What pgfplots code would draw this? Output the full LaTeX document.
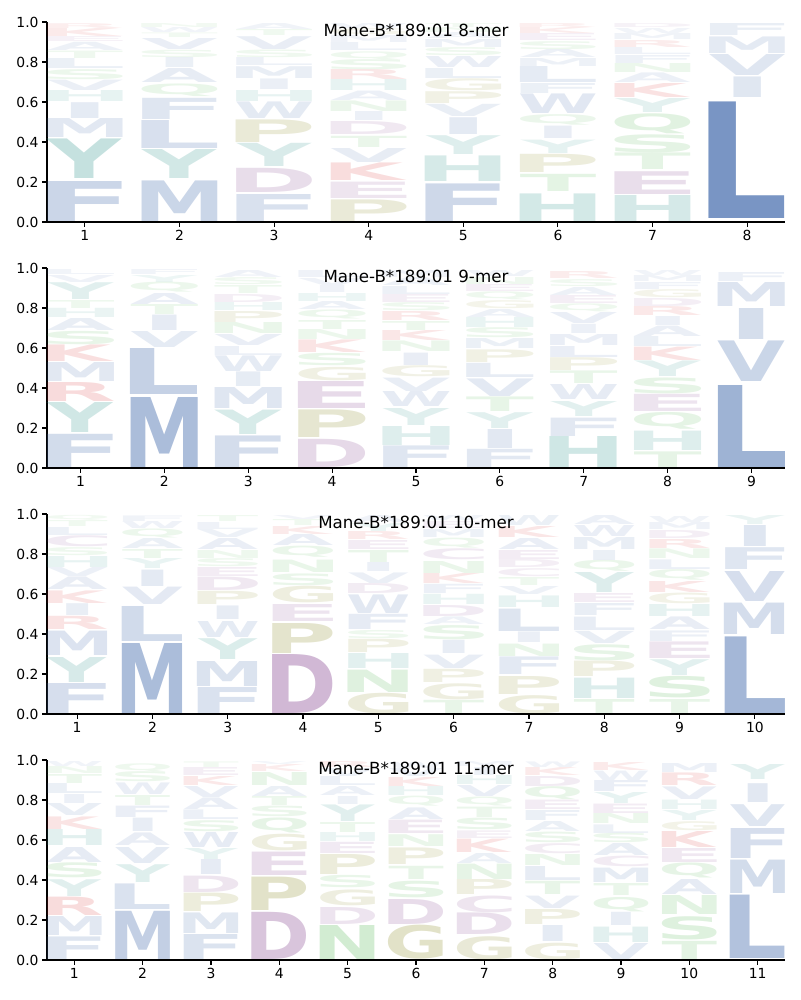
\documentclass[border=0pt]{standalone}
\usepackage{pgfplots}
\usepackage{pgfplotstable}
\usepackage{graphicx}
\usepackage{fontspec}
\pgfplotsset{compat=1.18}
\setmainfont{DejaVu Sans}
\newfontfamily\logofont{DejaVu Sans}
\definecolor{cb}{RGB}{76,114,176}
\definecolor{cp}{RGB}{140,80,150}
\definecolor{ct}{RGB}{53,151,143}
\definecolor{co}{RGB}{140,140,40}
\definecolor{cg}{RGB}{80,180,80}
\definecolor{cr}{RGB}{214,39,40}
\colorlet{aaA}{cb}\colorlet{aaC}{cp}\colorlet{aaD}{cp}\colorlet{aaE}{cp}
\colorlet{aaF}{cb}\colorlet{aaG}{co}\colorlet{aaH}{ct}\colorlet{aaI}{cb}
\colorlet{aaK}{cr}\colorlet{aaL}{cb}\colorlet{aaM}{cb}\colorlet{aaN}{cg}
\colorlet{aaP}{co}\colorlet{aaQ}{cg}\colorlet{aaR}{cr}\colorlet{aaS}{cg}
\colorlet{aaT}{cg}\colorlet{aaV}{cb}\colorlet{aaW}{cb}\colorlet{aaY}{ct}
\newdimen\ylen \ylen=200pt
\newcommand\logoglyph[4]{%
  \begingroup
  \logofont\bfseries
  \dimen0=\XeTeXglyphbounds1 \XeTeXcharglyph`#1\relax
  \dimen2=\XeTeXglyphbounds3 \XeTeXcharglyph`#1\relax
  \dimen4=\XeTeXglyphbounds1 \XeTeXcharglyph`E\relax
  \dimen6=\XeTeXglyphbounds3 \XeTeXcharglyph`E\relax
  \setbox2\hbox{E}%
  \dimen8=\dimexpr\wd2-\dimen4-\dimen6\relax
  \setbox0\hbox{\kern-\dimen0 #1\kern-\dimen2}%
  \ifdim\wd0<\dimen8 \setbox0\hbox to \dimen8{\hss\box0\hss}\fi
  \setbox0\hbox{\begin{pgfscope}\pgfsetfillopacity{#4}\color{aa#1}\box0\end{pgfscope}}%
  \resizebox*{#2}{#3\ylen}{\box0}%
  \endgroup}
\def\splitLH#1/#2\relax{%
  \pgfmathsetmacro\op{min(0.8,0.05+1.2*#2)}%
  \logoglyph{#1}{\lw}{#2}{\op}}
\def\logonode{%
  \edef\curM{\pgfplotspointmeta}%
  \expandafter\splitLH\curM\relax}
\newcommand\addmeta[1]{%
  \pgfplotstablecreatecol[create col/assign/.code={%
    \edef\v{\thisrow{l}/\thisrow{h}}%
    \pgfkeyslet{/pgfplots/table/create col/next content}\v}]{m}#1}
\pgfplotsset{
  logo/.style={
    scale only axis, width=738pt, height=200pt,
    ymin=0, ymax=1, xmin=0.6,
    ytick={0,0.2,0.4,0.6,0.8,1},
    yticklabel style={/pgf/number format/.cd, fixed, fixed zerofill, precision=1},
    /pgf/number format/assume math mode=true,
    axis x line*=bottom, axis y line*=left,
    axis line style={-, line width=1.1pt},
    tick style={line width=1.1pt, black},
    tick align=outside, major tick length=4.9pt,
    tick label style={font=\fontsize{13.9}{16}\selectfont},
    title style={at={(0.5,0.928)}, anchor=center, font=\fontsize{16.7}{20}\selectfont},
  },
  letters/.style={draw=none, mark=none, nodes near coords={\logonode},
    point meta=explicit symbolic,
    every node near coord/.style={anchor=south, inner sep=0pt, outer sep=0pt}},
}
\pgfplotstableread{
x y h l
1 0.005 0.200 F
1 0.215 0.198 Y
1 0.420 0.095 M
1 0.518 0.079 I
1 0.600 0.055 H
1 0.658 0.052 V
1 0.713 0.050 S
1 0.765 0.050 L
1 0.818 0.037 T
1 0.857 0.041 A
1 0.900 0.025 E
1 0.927 0.040 K
1 0.969 0.024 R
2 0.005 0.203 M
2 0.215 0.145 Y
2 0.365 0.140 L
2 0.512 0.106 F
2 0.627 0.063 Q
2 0.697 0.070 A
2 0.770 0.050 I
2 0.823 0.037 S
2 0.863 0.055 V
2 0.920 0.023 T
2 0.945 0.025 W
2 0.972 0.020 N
3 0.005 0.135 F
3 0.147 0.121 D
3 0.277 0.116 Y
3 0.397 0.113 P
3 0.515 0.083 W
3 0.602 0.055 H
3 0.660 0.053 I
3 0.718 0.059 M
3 0.780 0.040 L
3 0.822 0.038 S
3 0.863 0.064 V
3 0.930 0.030 T
3 0.962 0.030 A
4 0.002 0.108 P
4 0.118 0.082 E
4 0.205 0.088 K
4 0.298 0.070 V
4 0.372 0.056 T
4 0.435 0.065 D
4 0.505 0.045 I
4 0.552 0.053 N
4 0.605 0.047 A
4 0.655 0.055 H
4 0.710 0.050 R
4 0.760 0.050 S
4 0.812 0.040 Q
4 0.855 0.040 L
4 0.898 0.035 M
4 0.935 0.030 G
4 0.967 0.025 W
5 0.002 0.188 F
5 0.202 0.128 H
5 0.338 0.094 Y
5 0.438 0.084 I
5 0.527 0.061 V
5 0.593 0.059 P
5 0.655 0.060 G
5 0.718 0.050 L
5 0.772 0.055 W
5 0.830 0.040 S
5 0.872 0.040 M
5 0.915 0.030 A
5 0.947 0.025 N
5 0.974 0.020 T
6 0.002 0.138 H
6 0.152 0.086 T
6 0.247 0.091 P
6 0.343 0.067 Y
6 0.415 0.062 I
6 0.482 0.053 Q
6 0.540 0.098 W
6 0.643 0.050 F
6 0.695 0.080 L
6 0.778 0.040 M
6 0.820 0.040 A
6 0.862 0.040 S
6 0.905 0.035 E
6 0.942 0.030 K
6 0.974 0.020 R
7 0.002 0.130 H
7 0.138 0.114 E
7 0.260 0.083 T
7 0.348 0.090 S
7 0.443 0.100 Q
7 0.548 0.070 Y
7 0.622 0.070 K
7 0.695 0.048 A
7 0.745 0.045 N
7 0.792 0.040 F
7 0.835 0.035 L
7 0.872 0.035 R
7 0.910 0.030 M
7 0.943 0.025 W
7 0.970 0.020 D
8 0.015 0.583 L
8 0.622 0.103 I
8 0.730 0.105 V
8 0.840 0.083 M
8 0.932 0.060 F
}\tabA
\pgfplotstableread{
x y h l
1 0.002 0.166 F
1 0.177 0.150 Y
1 0.332 0.095 R
1 0.432 0.095 M
1 0.532 0.083 K
1 0.618 0.067 S
1 0.688 0.060 A
1 0.752 0.046 H
1 0.800 0.040 T
1 0.843 0.084 Y
1 0.930 0.035 V
1 0.967 0.025 L
2 0.005 0.350 M
2 0.368 0.230 L
2 0.605 0.080 V
2 0.688 0.077 I
2 0.768 0.050 T
2 0.818 0.055 A
2 0.877 0.050 Q
2 0.930 0.035 Y
2 0.967 0.025 F
3 0.002 0.158 F
3 0.168 0.122 Y
3 0.297 0.105 M
3 0.407 0.073 I
3 0.485 0.078 W
3 0.565 0.045 L
3 0.613 0.055 V
3 0.672 0.055 N
3 0.730 0.055 P
3 0.788 0.040 H
3 0.830 0.040 D
3 0.873 0.040 T
3 0.915 0.035 S
3 0.952 0.035 A
4 0.002 0.141 D
4 0.152 0.138 P
4 0.297 0.135 E
4 0.438 0.067 G
4 0.510 0.062 S
4 0.577 0.063 K
4 0.643 0.050 N
4 0.695 0.045 T
4 0.745 0.045 Q
4 0.793 0.040 A
4 0.835 0.040 H
4 0.877 0.035 I
4 0.915 0.035 V
4 0.952 0.035 L
5 0.002 0.108 F
5 0.115 0.095 H
5 0.215 0.085 Y
5 0.307 0.075 W
5 0.385 0.067 V
5 0.455 0.055 G
5 0.515 0.062 I
5 0.582 0.053 N
5 0.638 0.050 K
5 0.690 0.045 T
5 0.738 0.045 R
5 0.785 0.040 S
5 0.828 0.040 E
5 0.870 0.040 L
5 0.912 0.040 A
5 0.955 0.035 M
6 0.002 0.091 F
6 0.098 0.095 I
6 0.198 0.079 Y
6 0.282 0.073 T
6 0.360 0.088 V
6 0.452 0.071 L
6 0.530 0.063 P
6 0.598 0.050 M
6 0.650 0.050 S
6 0.702 0.050 H
6 0.755 0.040 A
6 0.797 0.040 G
6 0.840 0.040 Q
6 0.882 0.035 E
6 0.920 0.035 N
6 0.958 0.030 W
7 0.002 0.155 H
7 0.160 0.092 F
7 0.260 0.075 Y
7 0.343 0.075 W
7 0.422 0.063 T
7 0.488 0.064 P
7 0.555 0.055 L
7 0.613 0.055 M
7 0.672 0.046 I
7 0.722 0.055 V
7 0.780 0.040 Q
7 0.822 0.040 E
7 0.865 0.040 A
7 0.908 0.035 S
7 0.946 0.035 R
8 0.002 0.078 T
8 0.088 0.097 H
8 0.193 0.084 Q
8 0.282 0.086 E
8 0.373 0.079 S
8 0.457 0.078 Y
8 0.538 0.067 K
8 0.608 0.050 L
8 0.660 0.052 A
8 0.715 0.045 I
8 0.762 0.045 R
8 0.810 0.040 D
8 0.852 0.040 G
8 0.895 0.035 F
8 0.932 0.030 M
8 0.965 0.025 W
9 0.005 0.410 L
9 0.432 0.203 V
9 0.643 0.155 I
9 0.807 0.120 M
9 0.932 0.045 F
}\tabB
\pgfplotstableread{
x y h l
1 0.002 0.150 F
1 0.160 0.125 Y
1 0.293 0.122 M
1 0.422 0.066 R
1 0.493 0.059 I
1 0.555 0.063 K
1 0.622 0.063 A
1 0.688 0.045 V
1 0.735 0.055 H
1 0.792 0.040 S
1 0.835 0.055 C
1 0.893 0.040 L
1 0.936 0.030 T
1 0.968 0.025 Q
2 0.005 0.350 M
2 0.365 0.175 L
2 0.548 0.087 V
2 0.640 0.082 I
2 0.727 0.050 Y
2 0.780 0.045 T
2 0.828 0.050 A
2 0.880 0.045 Q
2 0.928 0.035 W
2 0.965 0.028 F
3 0.002 0.130 F
3 0.140 0.125 M
3 0.273 0.104 Y
3 0.385 0.080 W
3 0.472 0.068 I
3 0.547 0.066 P
3 0.618 0.067 D
3 0.688 0.045 E
3 0.737 0.040 S
3 0.780 0.040 N
3 0.823 0.055 A
3 0.882 0.040 V
3 0.925 0.035 L
3 0.962 0.030 T
4 0.002 0.295 D
4 0.305 0.150 P
4 0.463 0.085 E
4 0.555 0.083 G
4 0.643 0.059 S
4 0.710 0.062 N
4 0.782 0.056 Q
4 0.842 0.055 A
4 0.900 0.040 K
4 0.943 0.030 T
4 0.975 0.020 V
5 0.002 0.103 G
5 0.110 0.112 N
5 0.227 0.075 H
5 0.307 0.066 P
5 0.377 0.041 S
5 0.422 0.076 F
5 0.505 0.093 W
5 0.602 0.050 D
5 0.655 0.053 V
5 0.712 0.045 I
5 0.760 0.060 T
5 0.825 0.045 E
5 0.873 0.040 R
5 0.915 0.040 Y
5 0.958 0.035 A
6 0.002 0.066 T
6 0.072 0.080 G
6 0.157 0.066 P
6 0.230 0.067 V
6 0.302 0.066 I
6 0.372 0.071 S
6 0.447 0.038 A
6 0.488 0.055 D
6 0.547 0.051 H
6 0.602 0.046 F
6 0.652 0.050 K
6 0.705 0.060 N
6 0.770 0.055 C
6 0.830 0.050 Q
6 0.885 0.040 M
6 0.930 0.035 E
6 0.968 0.025 W
7 0.002 0.091 G
7 0.098 0.090 P
7 0.197 0.088 F
7 0.290 0.062 N
7 0.357 0.053 I
7 0.415 0.112 L
7 0.535 0.058 H
7 0.598 0.040 V
7 0.643 0.040 T
7 0.688 0.040 C
7 0.732 0.040 D
7 0.775 0.045 E
7 0.825 0.055 A
7 0.885 0.055 K
7 0.945 0.050 W
8 0.002 0.070 T
8 0.080 0.102 H
8 0.188 0.077 P
8 0.268 0.080 S
8 0.352 0.061 V
8 0.418 0.067 L
8 0.493 0.060 F
8 0.560 0.045 E
8 0.608 0.100 Y
8 0.712 0.055 Q
8 0.770 0.050 I
8 0.825 0.060 M
8 0.890 0.055 W
8 0.948 0.045 A
9 0.002 0.070 T
9 0.080 0.108 S
9 0.193 0.079 Y
9 0.277 0.083 E
9 0.365 0.053 F
9 0.422 0.063 A
9 0.488 0.060 H
9 0.552 0.053 G
9 0.610 0.055 K
9 0.668 0.053 Q
9 0.725 0.048 L
9 0.778 0.048 N
9 0.830 0.045 R
9 0.878 0.040 D
9 0.922 0.035 M
9 0.960 0.030 W
10 0.005 0.383 L
10 0.398 0.157 M
10 0.565 0.150 V
10 0.723 0.109 F
10 0.838 0.105 I
10 0.948 0.045 Y
}\tabC
\pgfplotstableread{
x y h l
1 0.002 0.113 F
1 0.123 0.095 M
1 0.223 0.092 R
1 0.318 0.084 Y
1 0.410 0.075 S
1 0.490 0.075 A
1 0.572 0.080 H
1 0.655 0.063 K
1 0.722 0.060 V
1 0.785 0.045 I
1 0.832 0.050 L
1 0.885 0.045 T
1 0.933 0.035 N
1 0.970 0.025 W
2 0.002 0.241 M
2 0.252 0.128 L
2 0.388 0.089 Y
2 0.485 0.080 V
2 0.572 0.063 A
2 0.643 0.067 I
2 0.715 0.057 F
2 0.775 0.050 T
2 0.828 0.058 W
2 0.890 0.050 S
2 0.943 0.040 Q
3 0.002 0.125 F
3 0.135 0.103 M
3 0.243 0.092 P
3 0.340 0.082 D
3 0.427 0.075 I
3 0.505 0.055 Y
3 0.563 0.075 W
3 0.643 0.055 S
3 0.702 0.048 L
3 0.752 0.058 A
3 0.815 0.055 V
3 0.873 0.045 K
3 0.922 0.040 E
3 0.965 0.028 T
4 0.002 0.236 D
4 0.248 0.167 P
4 0.423 0.117 E
4 0.547 0.083 G
4 0.635 0.075 Q
4 0.715 0.053 S
4 0.772 0.045 T
4 0.820 0.050 A
4 0.873 0.065 N
4 0.942 0.035 K
4 0.980 0.015 V
5 0.002 0.170 N
5 0.180 0.085 D
5 0.273 0.079 G
5 0.360 0.062 S
5 0.427 0.100 P
5 0.532 0.056 E
5 0.592 0.045 H
5 0.640 0.050 T
5 0.693 0.083 Y
5 0.780 0.040 I
5 0.823 0.045 A
5 0.872 0.045 L
5 0.920 0.040 V
5 0.963 0.030 R
6 0.002 0.170 G
6 0.177 0.125 D
6 0.310 0.083 S
6 0.402 0.066 T
6 0.477 0.083 P
6 0.568 0.059 N
6 0.635 0.067 E
6 0.705 0.058 A
6 0.768 0.050 Q
6 0.822 0.045 H
6 0.870 0.045 K
6 0.918 0.040 V
6 0.960 0.030 W
7 0.002 0.116 G
7 0.127 0.108 D
7 0.238 0.084 C
7 0.327 0.075 P
7 0.405 0.077 N
7 0.485 0.050 A
7 0.538 0.067 K
7 0.608 0.038 E
7 0.650 0.058 S
7 0.712 0.052 T
7 0.768 0.045 Q
7 0.818 0.055 V
7 0.877 0.045 H
7 0.925 0.040 I
7 0.968 0.025 M
8 0.002 0.083 G
8 0.093 0.080 I
8 0.180 0.075 P
8 0.260 0.062 V
8 0.327 0.066 T
8 0.398 0.070 L
8 0.472 0.055 N
8 0.530 0.050 C
8 0.585 0.053 S
8 0.642 0.050 A
8 0.700 0.050 F
8 0.752 0.047 E
8 0.802 0.065 Q
8 0.870 0.050 D
8 0.922 0.040 K
8 0.965 0.028 W
9 0.002 0.080 V
9 0.088 0.077 H
9 0.172 0.066 I
9 0.243 0.072 Q
9 0.322 0.060 T
9 0.388 0.072 M
9 0.465 0.053 C
9 0.522 0.060 A
9 0.585 0.047 S
9 0.635 0.043 L
9 0.682 0.050 N
9 0.735 0.047 E
9 0.785 0.055 Y
9 0.843 0.055 F
9 0.900 0.047 W
9 0.950 0.040 K
10 0.002 0.091 T
10 0.102 0.116 S
10 0.227 0.095 N
10 0.327 0.075 A
10 0.410 0.075 Q
10 0.490 0.070 E
10 0.563 0.080 K
10 0.648 0.045 G
10 0.698 0.050 Y
10 0.752 0.047 H
10 0.803 0.063 V
10 0.872 0.063 R
10 0.940 0.045 M
11 0.010 0.317 L
11 0.335 0.167 M
11 0.510 0.150 F
11 0.668 0.109 V
11 0.788 0.094 I
11 0.902 0.075 Y
}\tabD
\addmeta\tabA
\addmeta\tabB
\addmeta\tabC
\addmeta\tabD
\begin{document}
\begin{tikzpicture}
\path[use as bounding box] (0pt,0pt) rectangle (800pt,-1000pt);
\def\lw{75.69pt}
\begin{axis}[logo, at={(47pt,-222pt)}, anchor=south west, xmax=8.4, xtick={1,...,8},
  title={Mane-B*189:01 8-mer}]
\addplot[letters] table[x=x,y=y,meta=m]{\tabA};
\end{axis}
\def\lw{67.09pt}
\begin{axis}[logo, at={(47pt,-468pt)}, anchor=south west, xmax=9.4, xtick={1,...,9},
  title={Mane-B*189:01 9-mer}]
\addplot[letters] table[x=x,y=y,meta=m]{\tabB};
\end{axis}
\def\lw{60.24pt}
\begin{axis}[logo, at={(47pt,-714pt)}, anchor=south west, xmax=10.4, xtick={1,...,10},
  title={Mane-B*189:01 10-mer}]
\addplot[letters] table[x=x,y=y,meta=m]{\tabC};
\end{axis}
\def\lw{54.67pt}
\begin{axis}[logo, at={(47pt,-960pt)}, anchor=south west, xmax=11.4, xtick={1,...,11},
  title={Mane-B*189:01 11-mer}]
\addplot[letters] table[x=x,y=y,meta=m]{\tabD};
\end{axis}
\end{tikzpicture}
\end{document}
